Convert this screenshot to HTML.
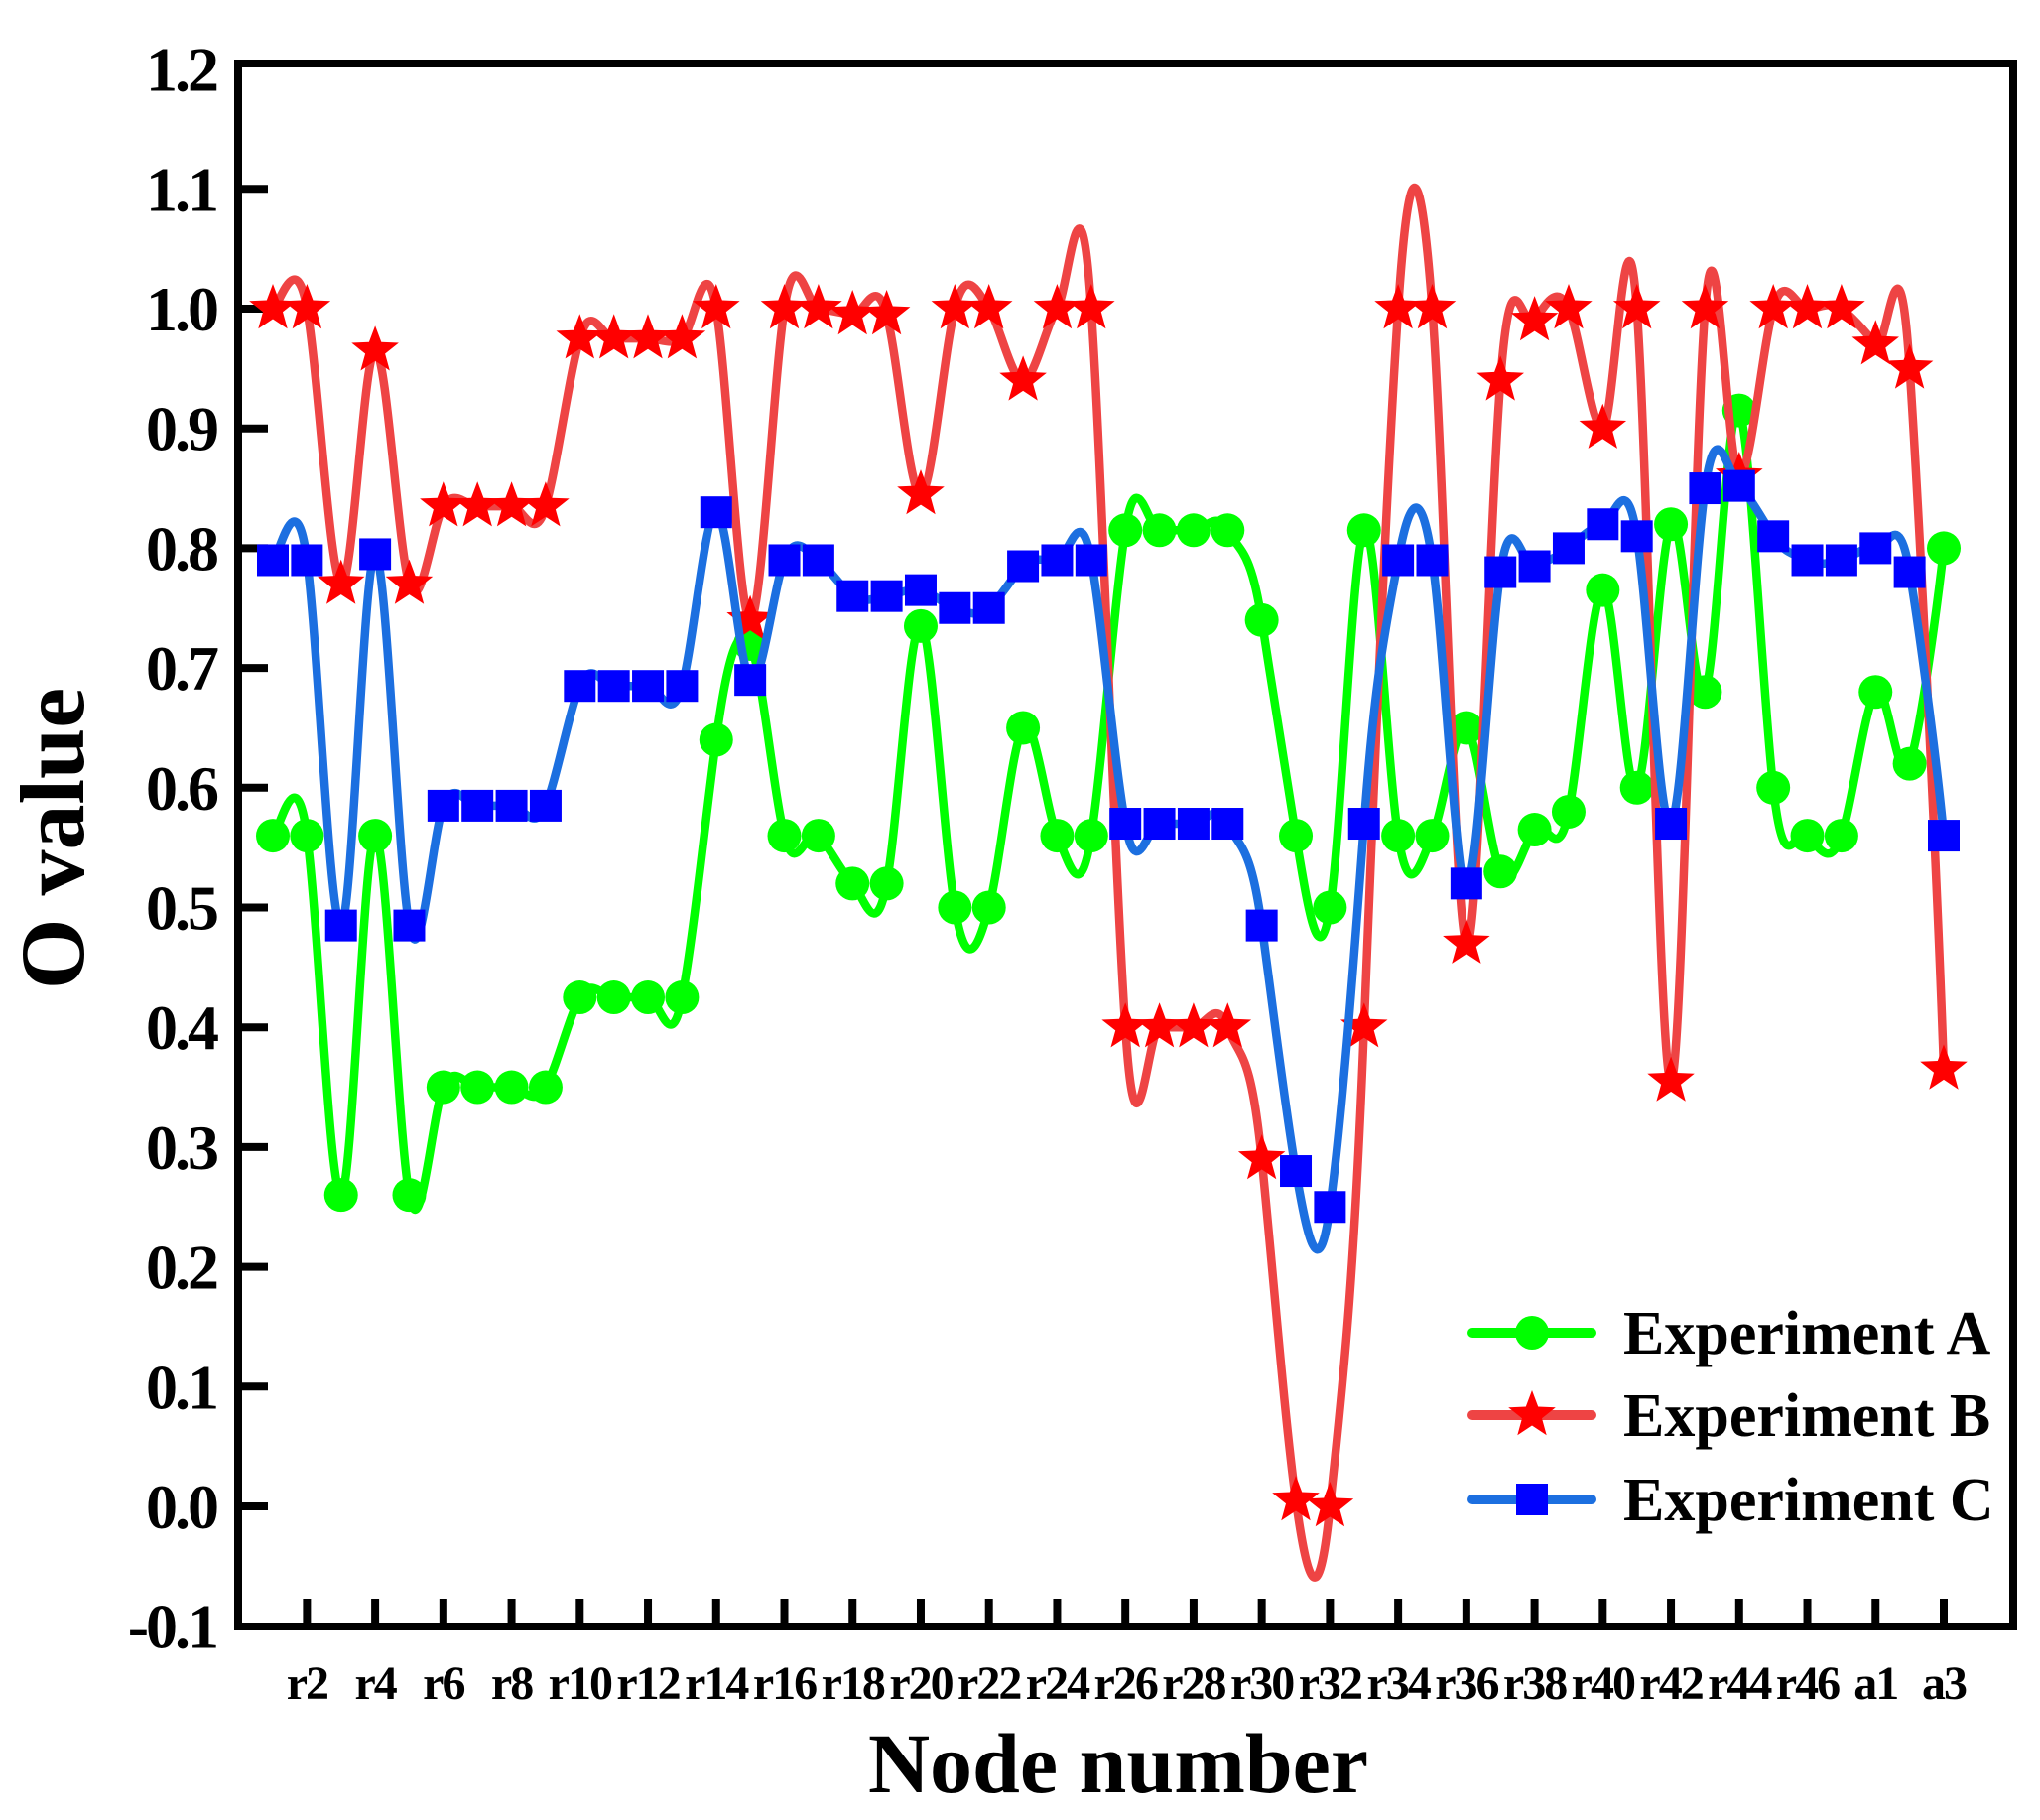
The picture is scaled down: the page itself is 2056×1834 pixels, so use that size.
<!DOCTYPE html>
<html><head><meta charset="utf-8"><style>
html,body{margin:0;padding:0;background:#fff}
svg{display:block}
text{font-family:"Liberation Serif",serif;font-weight:bold;fill:#000}
</style></head><body>
<svg id="chart" width="2056" height="1834" viewBox="0 0 2056 1834" xmlns="http://www.w3.org/2000/svg">
<g id="plot"></g>
</svg>
<script>
const categories = ["r1","r2","r3","r4","r5","r6","r7","r8","r9","r10","r11","r12","r13","r14","r15","r16","r17","r18","r19","r20","r21","r22","r23","r24","r25","r26","r27","r28","r29","r30","r31","r32","r33","r34","r35","r36","r37","r38","r39","r40","r41","r42","r43","r44","r45","r46","r47","a1","a2","a3"];
const seriesA = [0.56,0.56,0.26,0.56,0.26,0.35,0.35,0.35,0.35,0.425,0.425,0.425,0.425,0.64,0.72,0.56,0.56,0.52,0.52,0.735,0.50,0.50,0.65,0.56,0.56,0.815,0.815,0.815,0.815,0.74,0.56,0.50,0.815,0.56,0.56,0.65,0.53,0.565,0.58,0.765,0.60,0.82,0.68,0.915,0.60,0.56,0.56,0.68,0.62,0.80];
const seriesB = [1.0,1.0,0.77,0.965,0.77,0.835,0.835,0.835,0.835,0.975,0.975,0.975,0.975,1.0,0.74,1.0,1.0,0.995,0.995,0.845,1.0,1.0,0.94,1.0,1.0,0.40,0.40,0.40,0.40,0.29,0.005,0.0,0.40,1.0,1.0,0.47,0.94,0.99,1.0,0.90,1.0,0.355,1.0,0.86,1.0,1.0,1.0,0.97,0.95,0.365];
const seriesC = [0.79,0.79,0.485,0.795,0.485,0.585,0.585,0.585,0.585,0.685,0.685,0.685,0.685,0.83,0.69,0.79,0.79,0.76,0.76,0.765,0.75,0.75,0.785,0.79,0.79,0.57,0.57,0.57,0.57,0.485,0.28,0.25,0.57,0.79,0.79,0.52,0.78,0.785,0.80,0.82,0.81,0.57,0.85,0.852,0.81,0.79,0.79,0.80,0.78,0.56];
const yTicks = [-0.1,0.0,0.1,0.2,0.3,0.4,0.5,0.6,0.7,0.8,0.9,1.0,1.1,1.2];
const seriesNames = ["Experiment A","Experiment B","Experiment C"];

const NS="http://www.w3.org/2000/svg";
const g=document.getElementById('plot');
const L=240,R=2029,T=64,B=1639;
const X0=275,DX=(1959-275)/49;
function xs(i){return X0+i*DX;}
function ys(v){return 1518-1207*v;}
function mk(tag,attrs,parent){const e=document.createElementNS(NS,tag);for(const k in attrs)e.setAttribute(k,attrs[k]);(parent||g).appendChild(e);return e;}

const frame=mk('rect',{x:L,y:T,width:R-L,height:B-T,fill:'none',stroke:'#000','stroke-width':8});



yTicks.forEach(v=>{
  const y=ys(v);
  if(v>-0.1&&v<1.2){const t=mk('line',{x1:L,x2:L+30,y1:y,y2:y,stroke:'#000','stroke-width':8});
  
  }
  const lb=mk('text',{x:218,y:y+22,'text-anchor':'end','font-size':64,'letter-spacing':-3});
  lb.textContent=v.toFixed(1);
  
  
});
categories.forEach((c,i)=>{
  if(i%2!==1)return;
  const x=xs(i);
  const t=mk('line',{x1:x,x2:x,y1:B,y2:B-28,stroke:'#000','stroke-width':8});
  
  
  const lb=mk('text',{x:x,y:1712,'text-anchor':'middle','font-size':48,'letter-spacing':-2});
  lb.textContent=c;
  
  
});
const xt=mk('text',{x:1127,y:1806,'text-anchor':'middle','font-size':86});
xt.textContent='Node number';


const yt=mk('text',{x:0,y:0,'text-anchor':'middle','font-size':92,transform:'translate(84,845) rotate(-90)'});
yt.textContent='O value';



function smoothPath(vals){
  const p=vals.map((v,i)=>[xs(i),ys(v)]);
  const k=4.2;
  let d='M'+p[0][0]+','+p[0][1];
  for(let i=0;i<p.length-1;i++){
    const p0=p[i-1]||p[i],p1=p[i],p2=p[i+1],p3=p[i+2]||p[i+1];
    const c1=[p1[0]+(p2[0]-p0[0])/6,p1[1]+(p2[1]-p0[1])/k];
    const c2=[p2[0]-(p3[0]-p1[0])/6,p2[1]-(p3[1]-p1[1])/k];
    d+=' C'+c1[0]+','+c1[1]+' '+c2[0]+','+c2[1]+' '+p2[0]+','+p2[1];
  }
  return d;
}
function starPts(cx,cy,r){
  let s=[];for(let k=0;k<10;k++){const rr=k%2?r*0.42:r;const a=-Math.PI/2+k*Math.PI/5;s.push((cx+rr*Math.cos(a)).toFixed(1)+','+(cy+rr*Math.sin(a)).toFixed(1));}
  return s.join(' ');
}
function marker(type,cx,cy,parent){
  let e;
  if(type==='circle')e=mk('circle',{cx:cx,cy:cy,r:17,fill:'#00ff00'},parent);
  else if(type==='star')e=mk('polygon',{points:starPts(cx,cy,25),fill:'#ff0000'},parent);
  else e=mk('rect',{x:cx-16,y:cy-16,width:32,height:32,fill:'#0000ff'},parent);
  return e;
}
const defs=[[seriesA,'#00ff00','circle','series-a'],[seriesB,'#ee4444','star','series-b'],[seriesC,'#1c6fe0','square','series-c']];
defs.forEach(([vals,col,type,name])=>{
  const sg=mk('g',{});
  
  
  const ln=mk('path',{d:smoothPath(vals),fill:'none',stroke:col,'stroke-width':8.5,'stroke-linejoin':'round'},sg);
  
  
  vals.forEach((v,i)=>{
    const m=marker(type,xs(i),ys(v),sg);
    
    
  });
});
const lg=mk('g',{});


const lyArr=[1343,1426,1511];
seriesNames.forEach((n,i)=>{
  const [vals,col,type]=defs[i];
  const y=lyArr[i];
  const eg=mk('g',{},lg);
  
  
  mk('line',{x1:1484,x2:1604,y1:y,y2:y,stroke:col,'stroke-width':10,'stroke-linecap':'round'},eg);
  marker(type,1544,y,eg);
  const t=mk('text',{x:1636,y:y+21,'font-size':62},eg);
  t.textContent=n;
});
</script>
</body></html>
